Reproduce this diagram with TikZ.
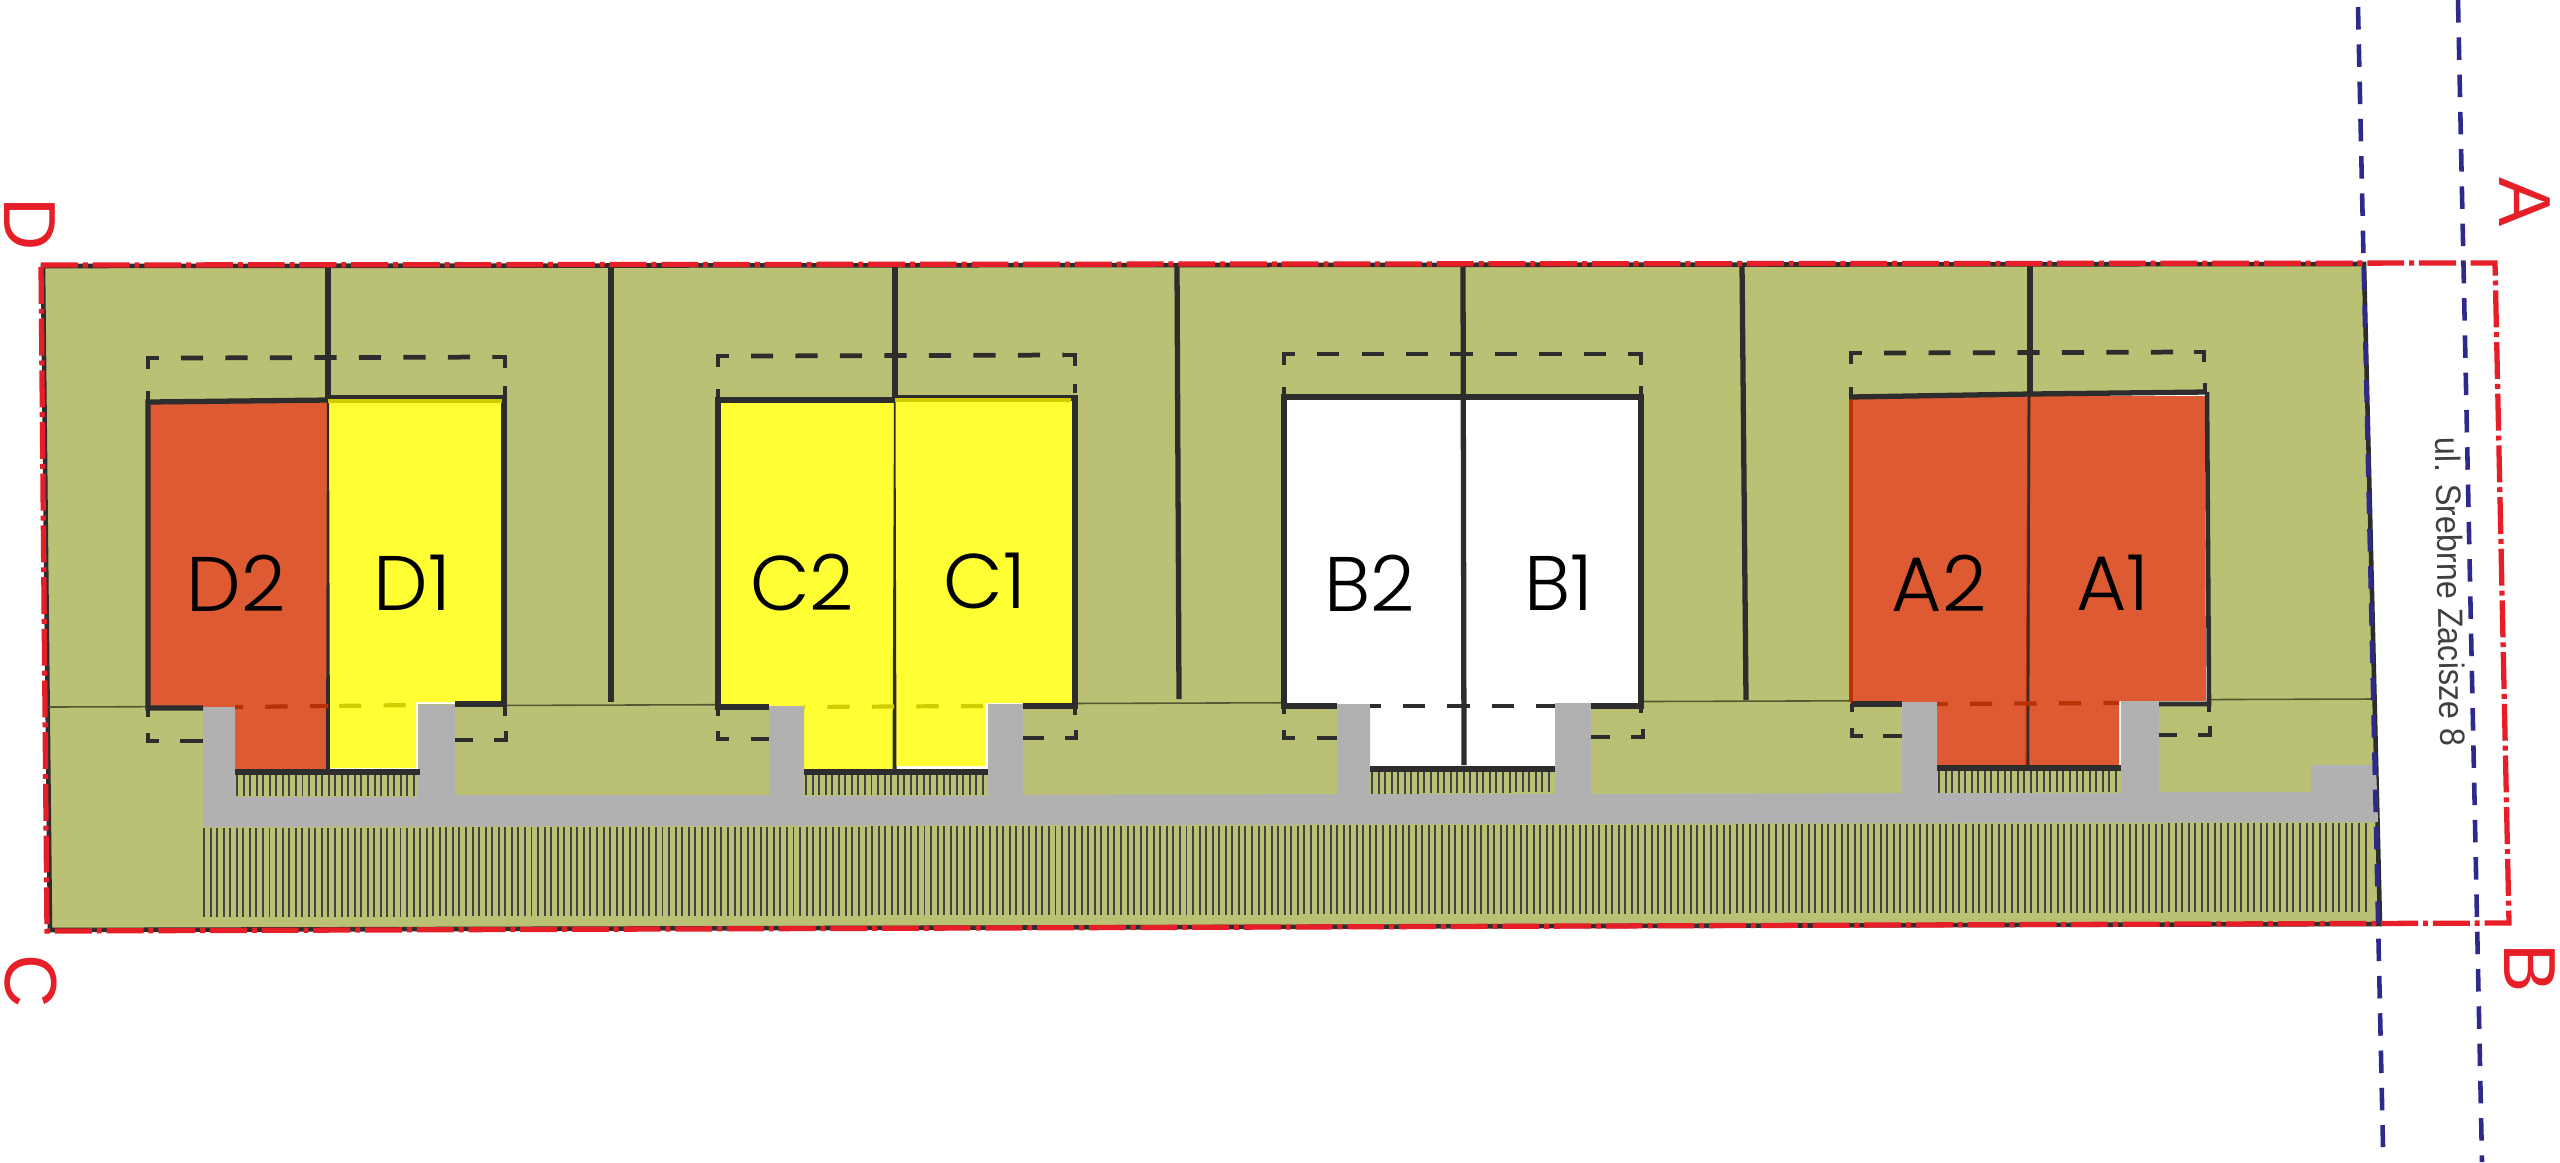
\documentclass[tikz,border=0pt]{standalone}
\usepackage{fontspec}
\usepackage{graphicx}
\setmainfont{Liberation Sans}
\newfontfamily\housef{Poppins Light}
\definecolor{olive}{RGB}{187,193,116}
\definecolor{orng}{RGB}{221,90,50}
\definecolor{yelw}{RGB}{255,255,51}
\definecolor{grey1}{RGB}{176,177,176}
\definecolor{redl}{RGB}{230,30,40}
\definecolor{bluel}{RGB}{46,42,140}
\definecolor{dark}{RGB}{45,45,45}
\definecolor{dorng}{RGB}{185,50,5}
\definecolor{dyelw}{RGB}{208,204,0}
\tikzset{
  wall/.style={draw=dark,line width=1.5pt},
  thin line/.style={draw=olive!45!black,line width=0.45pt},
  setback/.style={draw=dark,line width=1.35pt},
  setbackd/.style={line width=1.35pt,dash pattern=on 6.3pt off 6.35pt},
  hatchl/.style={draw=dark!90,line width=0.56pt},
  redb/.style={draw=redl,line width=1.5pt,dash pattern=on 10.5pt off 1.4pt on 1.4pt off 1.4pt},
  blued/.style={draw=bluel,line width=1.3pt,dash pattern=on 6.4pt off 4.2pt},
  hlabel/.style={font=\housef\fontsize{22}{22}\selectfont,text=black,inner sep=0pt},
  cornerl/.style={font=\fontsize{21}{21}\selectfont,text=redl,inner sep=0pt,rotate=-90},
}
\newcommand{\hatchrow}[6]{% x1 x2 ytop1 ytop2 ybot1 ybot2
  \pgfmathsetmacro{\hn}{int((#2-#1)/6.55)}
  \foreach \k in {0,...,\hn}{
    \pgfmathsetmacro{\hx}{#1+6.55*\k}
    \pgfmathsetmacro{\ht}{#3+(#4-#3)*(\hx-#1)/(#2-#1)}
    \pgfmathsetmacro{\hb}{#5+(#6-#5)*(\hx-#1)/(#2-#1)}
    \draw[hatchl] (\hx,\ht) -- (\hx,\hb);
  }
}
\begin{document}
\begin{tikzpicture}[x=0.01cm,y=-0.01cm]
\useasboundingbox (0,0) rectangle (2560,1162);
\fill[white] (0,0) rectangle (2560,1162);
% site
\fill[olive] (44,266) -- (2364,264) -- (2380,924) -- (51,930) -- cycle;
\draw[dark,line width=1.3pt] (43,266) -- (2364,264) -- (2380,924) -- (50,930) -- cycle;
% building line
\draw[thin line] (49,707) -- (2371,699);
% lot dividers
\foreach \xa/\xb/\yb in {611/611/702,1177/1179/699,1742/1746/700}
  \draw[wall] (\xa,264) -- (\xb,\yb);
% house fills
\fill[orng] (148,402) -- (328,400) -- (328,769) -- (235,769) -- (235,708) -- (148,708) -- cycle;
\fill[white] (328,400) -- (504,399) -- (504,704) -- (418,704) -- (418,771) -- (328,771) -- cycle;
\fill[yelw] (328,400) -- (503,400) -- (503,702) -- (416,702) -- (416,768) -- (328,768) -- cycle;
\fill[yelw] (718,400) -- (894,399) -- (894,770) -- (804,770) -- (804,707) -- (718,707) -- cycle;
\fill[white] (894,399) -- (1075,398) -- (1075,706) -- (988,706) -- (988,769) -- (894,769) -- cycle;
\fill[yelw] (894,399) -- (1072,398) -- (1072,703) -- (985,703) -- (985,766) -- (894,766) -- cycle;
\fill[white] (1284,397) -- (1641,397) -- (1641,706) -- (1555,706) -- (1555,769) -- (1370,769) -- (1370,706) -- (1284,706) -- cycle;
\fill[orng] (1850,397) -- (2030,394) -- (2030,767) -- (1937,767) -- (1937,704) -- (1850,704) -- cycle;
\fill[white] (2030,394) -- (2208,392) -- (2210,704) -- (2121,704) -- (2121,767) -- (2030,767) -- cycle;
\fill[orng] (2030,396) -- (2205,396) -- (2206,701) -- (2119,701) -- (2119,765) -- (2030,765) -- cycle;
% hatching
\hatchrow{204}{2372}{828}{823}{917}{912}
\hatchrow{237}{418}{773}{773}{796}{796}
\hatchrow{806}{988}{773}{773}{795}{795}
\hatchrow{1372}{1553}{772}{772}{794}{792}
\hatchrow{1939}{2121}{770}{770}{793}{792}
% road
\fill[grey1] (203,707) -- (235,707) -- (235,797) -- (418,797) -- (418,705) -- (455,705) -- (455,795)
  -- (769,795) -- (769,706) -- (804,706) -- (804,796) -- (988,796) -- (988,704) -- (1023,704) -- (1023,795)
  -- (1337,794) -- (1337,704) -- (1370,704) -- (1370,794) -- (1555,794) -- (1555,703) -- (1591,703) -- (1591,794)
  -- (1902,793) -- (1902,702) -- (1937,702) -- (1937,793) -- (2121,793) -- (2121,701) -- (2159,701) -- (2159,792)
  -- (2311,792) -- (2311,765) -- (2376,765) -- (2378,822) -- (203,827) -- cycle;
% D walls
\draw[wall] (203,708) -- (148,708) -- (148,402) -- (328,400);
\draw[wall] (328,398) -- (504,398) -- (504,704) -- (455,704);
\draw[wall] (328,264) -- (328,400);
\fill[dark] (327,400) -- (329,400) -- (330,769) -- (326,769) -- cycle;
\draw[wall] (235,772) -- (420,772);
\draw[dyelw,line width=1.1pt] (328,401) -- (502,401);
% C walls
\draw[wall] (769,707) -- (718,707) -- (718,400) -- (894,400);
\draw[wall] (894,398) -- (1075,398) -- (1075,706) -- (1023,706);
\draw[wall] (895,264) -- (895,400);
\fill[dark] (894,400) -- (895.5,400) -- (896.5,770) -- (892.5,770) -- cycle;
\draw[wall] (804,772) -- (988,772);
\draw[dyelw,line width=1.1pt] (895,400) -- (1071,400);
% B walls
\draw[wall] (1337,706) -- (1284,706) -- (1284,397) -- (1464,397) -- (1641,397) -- (1641,706) -- (1591,706);
\draw[wall] (1463,264) -- (1464,765);
\draw[wall] (1370,769) -- (1555,769);
% A walls
\draw[wall] (1902,704) -- (1851,704);
\draw[wall] (1849,397) -- (2030,394) -- (2206,392);
\draw[dorng,line width=1.1pt] (1851,400) -- (1851,702);
\draw[wall,line width=1.3pt] (2207,392) -- (2209,704) -- (2159,704);
\draw[wall] (2030,264) -- (2030,394);
\draw[dorng,line width=0.9pt] (2029,396) -- (2027,766);
\draw[dark,line width=0.7pt] (2029,396) -- (2028,766);
\draw[wall] (1937,768) -- (2121,768);
% setback outlines: D
\draw[setback] (148,369) -- (148,358) -- (159,358);
\draw[setback,setbackd] (181,358) -- (493,357);
\draw[setback] (493,357) -- (505,357) -- (505,368);
\draw[setback] (148,391) -- (148,402);
\draw[setback] (505,386) -- (505,395);
\draw[setback] (148,708) -- (148,717);
\draw[setback] (148,733) -- (148,741) -- (159,741);
\draw[setback] (180,741) -- (203,741);
\draw[setback] (455,740) -- (473,740);
\draw[setback] (494,740) -- (506,740) -- (506,731);
\draw[setback] (505,704) -- (505,716);
\draw[line width=1.2pt,dorng,dash pattern=on 6.3pt off 6.35pt,dash phase=4pt] (235,707) -- (328,706);
\draw[line width=1.2pt,dyelw,dash pattern=on 6.3pt off 6.35pt,dash phase=9.5pt] (328,706) -- (418,705);
% C
\draw[setback] (718,367) -- (718,356) -- (729,356);
\draw[setback,setbackd] (751,356) -- (1064,355);
\draw[setback] (1064,355) -- (1075,355) -- (1075,366);
\draw[setback] (718,389) -- (718,400);
\draw[setback] (1075,384) -- (1075,393);
\draw[setback] (718,707) -- (718,716);
\draw[setback] (718,731) -- (718,739) -- (729,739);
\draw[setback] (751,739) -- (769,739);
\draw[setback] (1023,738) -- (1044,738);
\draw[setback] (1065,738) -- (1076,738) -- (1076,730);
\draw[setback] (1075,706) -- (1075,715);
\draw[line width=1.2pt,dyelw,dash pattern=on 6.3pt off 6.35pt,dash phase=6pt] (804,707) -- (985,706);
% B
\draw[setback] (1284,365) -- (1284,354) -- (1295,354);
\draw[setback,setbackd] (1317,354) -- (1630,354);
\draw[setback] (1630,354) -- (1641,354) -- (1641,365);
\draw[setback] (1284,387) -- (1284,397);
\draw[setback] (1641,386) -- (1641,397);
\draw[setback] (1284,706) -- (1284,714);
\draw[setback] (1284,730) -- (1284,738) -- (1295,738);
\draw[setback] (1317,738) -- (1337,738);
\draw[setback] (1591,737) -- (1610,737);
\draw[setback] (1631,737) -- (1643,737) -- (1643,729);
\draw[setback] (1641,706) -- (1641,713);
\draw[setback,dash pattern=on 6.3pt off 6.35pt,dash phase=3.3pt] (1370,706) -- (1555,706);
% A
\draw[setback] (1851,364) -- (1851,353) -- (1862,353);
\draw[setback,setbackd] (1884,353) -- (2194,352);
\draw[setback] (2194,352) -- (2204,352) -- (2204,362);
\draw[setback] (1851,387) -- (1851,397);
\draw[setback] (2205,383) -- (2205,392);
\draw[setback] (1852,704) -- (1852,712);
\draw[setback] (1852,728) -- (1852,736) -- (1863,736);
\draw[setback] (1883,736) -- (1902,736);
\draw[setback] (2159,735) -- (2177,735);
\draw[setback] (2198,735) -- (2210,735) -- (2210,726);
\draw[setback] (2209,704) -- (2209,712);
\draw[line width=1.2pt,dorng,dash pattern=on 6.3pt off 6.35pt,dash phase=3.3pt] (1937,704) -- (2119,703);
% boundary
\draw[redb] (41,265) -- (2495,263) -- (2509,923) -- (47,931) -- cycle;
% neighbouring lines
\coordinate (b1t) at (2358,7);
\coordinate (b1b) at (2383,1147);
\coordinate (b2t) at (2458,0);
\coordinate (b2b) at (2482,1162);
\draw[blued] (b1t) -- (b1b);
\draw[blued] (b2t) -- (b2b);
% labels
\node[hlabel] (lD2) at (236,583) {D2};
\node[hlabel] (lD1) at (412,583) {D1};
\node[hlabel] (lC2) at (802,583) {C2};
\node[hlabel] (lC1) at (985,581) {C1};
\node[hlabel] (lB2) at (1370,583) {B2};
\node[hlabel] (lB1) at (1559,583) {B1};
\node[hlabel] (lA2) at (1939,583) {A2};
\node[hlabel] (lA1) at (2113,583) {A1};
\node[cornerl] (cD) at (30,224) {D};
\node[cornerl] (cC) at (31,981) {C};
\node[cornerl] (cA) at (2525,202) {A};
\node[cornerl] (cB) at (2530,968) {B};
\node[inner sep=0pt,rotate=-89.1,text=black!75,font=\fontsize{10}{10}\selectfont] (street) at (2450.5,592) {\scalebox{0.92}[1]{ul. Srebrne Zacisze 8}};
\end{tikzpicture}
\end{document}
